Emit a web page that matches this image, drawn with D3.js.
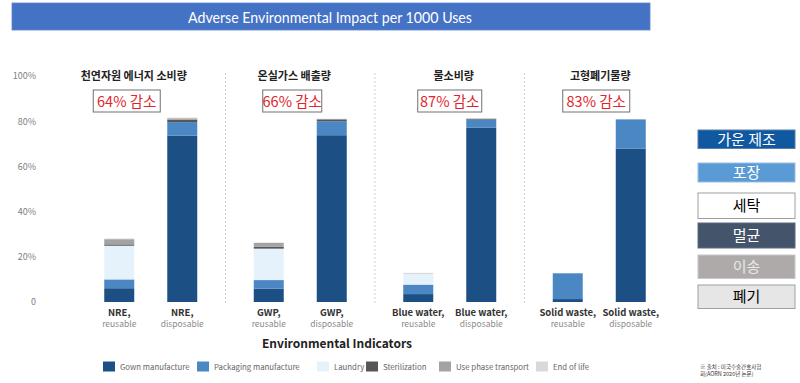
<!DOCTYPE html>
<html><head><meta charset="utf-8">
<script src="https://cdn.jsdelivr.net/npm/d3@7"></script>
<style>
html,body{margin:0;padding:0;background:#fff;}
svg{display:block;font-family:"Noto Sans CJK KR","Noto Sans",sans-serif;}
</style></head>
<body><svg id="c" width="800" height="383"></svg>
<script>
// ---- data ----
const groups = ["NRE", "GWP", "Blue water", "Solid waste"];
const groupTitles = ["천연자원 에너지 소비량", "온실가스 배출량", "물소비량", "고형폐기물량"];
const reductions = ["64% 감소", "66% 감소", "87% 감소", "83% 감소"];
const kinds = ["reusable", "disposable"];
const seriesNames = ["Gown manufacture", "Packaging manufacture", "Laundry", "Sterilization", "Use phase transport", "End of life"];
// order of bars: NRE r, NRE d, GWP r, GWP d, Blue r, Blue d, Solid r, Solid d
const gownManufacture     = [6.1, 73.6, 5.9, 73.8, 3.5, 77.1, 1.3, 67.8];
const packagingManufacture= [3.9, 6.0, 3.8, 6.2, 4.2, 3.6, 11.4, 13.0];
const laundry             = [14.9, 0, 13.9, 0, 4.7, 0, 0, 0];
const sterilization       = [0.6, 1.1, 0.9, 0.8, 0, 0.4, 0, 0];
const usePhaseTransport   = [2.3, 0.6, 1.7, 0.2, 0, 0, 0, 0];
const endOfLife           = [0.3, 0.3, 0, 0.1, 0.5, 0, 0, 0];
const yTicks = [0, 20, 40, 60, 80, 100];
const yTickLabels = ["0", "20%", "40%", "60%", "80%", "100%"];
const legendKo = ["가운 제조", "포장", "세탁", "멀균", "이송", "폐기"];

// ---- styles ----
const colors = ["#1c4f84", "#4b87c2", "#e6f2fb", "#575757", "#a3a3a3", "#d9d9d9"];
const koFill = ["#1059a0", "#5b9bd5", "#ffffff", "#44546a", "#aeaaaa", "#e7e6e6"];
const koText = ["#ffffff", "#ffffff", "#000000", "#ffffff", "#e8e8e8", "#000000"];
const koStroke = ["#5a7fa8", "#9bbde0", "#a0a0a0", "#5a6a80", "#c8c8c8", "#a0a0a0"];
const titleOffsets = [-17, -6, 4, 1];
const boxOffsets = [-24, -8, 0, -3];
const boxWidths = [67, 59, 64, 67];

const svg = d3.select("#c");

// title bar
svg.append("rect").attr("x", 12).attr("y", 3).attr("width", 638).attr("height", 27)
  .attr("fill", "#4472c4").attr("stroke", "#5b86d0").attr("stroke-width", 0.8);
svg.append("text").attr("x", 188).attr("y", 22.5).attr("fill", "#fff")
  .attr("textLength", 284).attr("lengthAdjust", "spacingAndGlyphs")
  .style("font-family", "Lato, 'Open Sans', sans-serif").style("font-size", "15px")
  .text("Adverse Environmental Impact per 1000 Uses");

// scales
const y = d3.scaleLinear().domain([0, 100]).range([302, 76]);
const xg = d3.scaleBand().domain(groups).range([76, 674]).padding(0);
const xi = d3.scaleBand().domain(kinds).range([28.25, 121.25]).paddingInner(0.524).paddingOuter(0);

// y axis labels
const yAxis = svg.append("g").attr("transform", "translate(36,0)")
  .call(d3.axisLeft(y).tickValues(yTicks).tickFormat((d, i) => yTickLabels[i]).tickSize(0).tickPadding(0));
yAxis.select(".domain").remove();
yAxis.selectAll("text").attr("fill", "#808080").style("font-size", "9px")
  .style("font-family", "'Noto Sans CJK KR', sans-serif");

// separators
groups.slice(1).forEach(g => {
  svg.append("line").attr("x1", xg(g)).attr("x2", xg(g)).attr("y1", 73).attr("y2", 303)
    .attr("stroke", "#d0d0d0").attr("stroke-width", 1).attr("stroke-dasharray", "2,2");
});

// stacked data
const seriesArrays = [gownManufacture, packagingManufacture, laundry, sterilization, usePhaseTransport, endOfLife];
const rows = [];
groups.forEach((g, gi) => kinds.forEach((k, ki) => {
  const idx = gi * 2 + ki;
  const row = {group: g, kind: k};
  seriesNames.forEach((s, si) => row[s] = seriesArrays[si][idx]);
  rows.push(row);
}));
const stack = d3.stack().keys(seriesNames)(rows);

svg.append("g").selectAll("g").data(stack).join("g")
  .attr("fill", (d, i) => colors[i])
  .selectAll("rect").data(d => d).join("rect")
  .attr("x", d => xg(d.data.group) + xi(d.data.kind))
  .attr("width", xi.bandwidth())
  .attr("y", d => y(d[1]))
  .attr("height", d => Math.max(0, y(d[0]) - y(d[1])));

// category labels
rows.forEach(r => {
  const cx = xg(r.group) + xi(r.kind) + xi.bandwidth() / 2;
  svg.append("text").attr("x", cx).attr("y", 315.5).attr("text-anchor", "middle")
    .attr("fill", "#333").style("font-size", "9.5px").style("font-weight", "bold").text(r.group + ",");
  svg.append("text").attr("x", cx).attr("y", 327).attr("text-anchor", "middle")
    .attr("fill", "#8a8a8a").style("font-size", "8.5px").text(r.kind);
});

// group titles & reduction boxes
groups.forEach((g, i) => {
  const c = xg(g) + xg.bandwidth() / 2;
  svg.append("text").attr("x", c + titleOffsets[i]).attr("y", 80).attr("text-anchor", "middle")
    .attr("fill", "#222").style("font-size", "11px").style("font-weight", "bold").text(groupTitles[i]);
  const bc = c + boxOffsets[i];
  svg.append("rect").attr("x", bc - boxWidths[i] / 2).attr("y", 90).attr("width", boxWidths[i]).attr("height", 22)
    .attr("fill", "#fff").attr("stroke", "#707070").attr("stroke-width", 1);
  svg.append("text").attr("x", bc).attr("y", 106.5).attr("text-anchor", "middle")
    .attr("fill", "#e0262b").style("font-size", "14.5px").text(reductions[i]);
});

// axis title
svg.append("text").attr("x", 337).attr("y", 348).attr("text-anchor", "middle")
  .attr("fill", "#222").style("font-size", "12px").style("font-weight", "bold").text("Environmental Indicators");

// bottom legend
const legX = [103, 197, 317, 366, 439, 536];
seriesNames.forEach((s, i) => {
  svg.append("rect").attr("x", legX[i]).attr("y", 361.5).attr("width", 12).attr("height", 10).attr("fill", colors[i]);
  svg.append("text").attr("x", legX[i] + 17).attr("y", 370).attr("fill", "#666")
    .style("font-size", "7.8px").text(s);
});

// right Korean legend
const koY = [130, 163, 193, 223, 255, 285];
const koH = [18.5, 19, 25.5, 25, 23.5, 23.5];
legendKo.forEach((t, i) => {
  svg.append("rect").attr("x", 698).attr("y", koY[i]).attr("width", 97).attr("height", koH[i])
    .attr("fill", koFill[i]).attr("stroke", koStroke[i]).attr("stroke-width", 1);
  svg.append("text").attr("x", 746.5).attr("y", koY[i] + koH[i] / 2 + 5.5).attr("text-anchor", "middle")
    .attr("fill", koText[i]).style("font-size", "15px").text(t);
});

// footnote
svg.append("text").attr("x", 700).attr("y", 369).attr("fill", "#333").style("font-size", "5.5px")
  .text("※ 출처 : 미국수술간호사협");
svg.append("text").attr("x", 700).attr("y", 376).attr("fill", "#333").style("font-size", "5.5px")
  .text("회(AORN 2020년 논문)");
</script></body></html>
